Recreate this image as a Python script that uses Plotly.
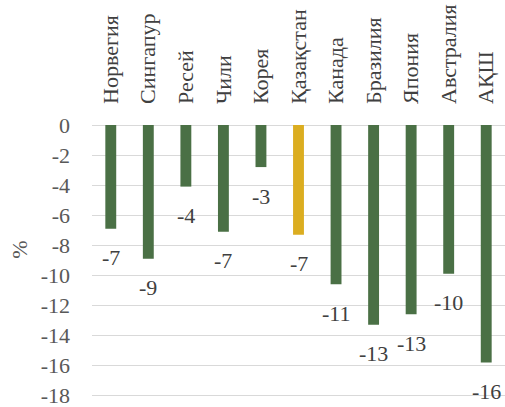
import plotly.graph_objects as go

countries = ["Норвегия", "Сингапур", "Ресей", "Чили", "Корея", "Қазақстан",
             "Канада", "Бразилия", "Япония", "Австралия", "АҚШ"]
values = [-6.9, -8.9, -4.1, -7.1, -2.8, -7.3, -10.6, -13.3, -12.6, -9.9, -15.8]
highlight = "Қазақстан"
y_ticks = list(range(0, -19, -2))

GREEN = "#4a7045"
GOLD = "#dbad20"
FONT = "Liberation Serif, Times New Roman, serif"

colors = [GOLD if c == highlight else GREEN for c in countries]

fig = go.Figure()
fig.add_trace(go.Bar(
    x=countries,
    y=values,
    marker=dict(color=colors, line=dict(width=0)),
    width=0.29,
    hoverinfo="x+y",
))

# value labels placed just below each bar's end
for c, v in zip(countries, values):
    fig.add_annotation(
        x=c, y=v, xref="x", yref="y",
        text=f"{round(v):.0f}",
        showarrow=False,
        yshift=-29,
        font=dict(family=FONT, size=22, color="#404040"),
    )

fig.add_annotation(
    text="%", textangle=-90,
    xref="paper", yref="paper", x=0, y=0.546,
    xanchor="center", yanchor="middle",
    xshift=-72, showarrow=False,
    font=dict(family=FONT, size=22, color="#595959"),
)

fig.update_layout(
    width=505, height=407,
    margin=dict(l=92, r=0, t=125, b=7, autoexpand=False),
    paper_bgcolor="white", plot_bgcolor="white",
    showlegend=False,
    font=dict(family=FONT, size=22, color="#595959"),
    xaxis=dict(
        side="top",
        tickangle=-90,
        ticks="",
        showgrid=False,
        showline=False,
        zeroline=False,
        automargin=False,
        ticklabelstandoff=20,
        tickfont=dict(family=FONT, size=22, color="#404040"),
    ),
    yaxis=dict(
        range=[-18.3, 0],
        tickvals=y_ticks,
        ticktext=[str(t) for t in y_ticks],
        showgrid=True,
        gridcolor="#d9d9d9",
        gridwidth=1,
        zeroline=True,
        zerolinecolor="#d9d9d9",
        zerolinewidth=1,
        showline=False,
        ticks="",
        automargin=False,
        ticklabelstandoff=21,
        ticklabeloverflow="allow",
        tickfont=dict(family=FONT, size=22, color="#595959"),
    ),
)

fig.write_html("out.html")
